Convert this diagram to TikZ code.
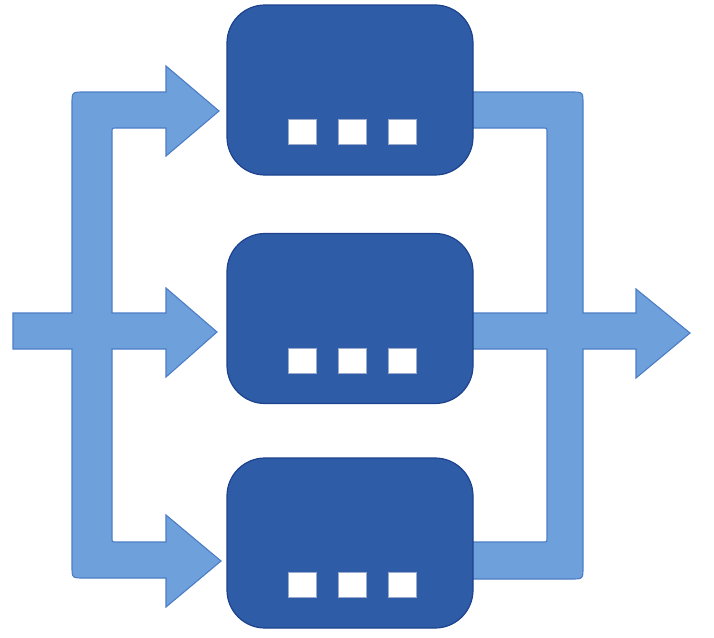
\documentclass[tikz,border=0pt]{standalone}
\definecolor{lightfill}{HTML}{6EA0DC}
\definecolor{lightedge}{HTML}{4C7DC6}
\definecolor{boxfill}{HTML}{2E5CA6}
\definecolor{boxedge}{HTML}{1D428E}
\tikzset{
  flowshape/.style={fill=lightfill, draw=lightedge, line width=1.1pt, line join=miter},
  procbox/.style={rectangle, rounded corners=38pt, fill=boxfill, draw=boxedge, line width=1.2pt,
    minimum width=246pt, minimum height=170pt, inner sep=0pt},
  slot/.style={rectangle, fill=white, draw=boxedge!45, line width=0.5pt,
    minimum width=28pt, minimum height=25pt, inner sep=0pt}
}
\begin{document}
\begin{tikzpicture}[x=1pt,y=-1pt]
\useasboundingbox (0,0) rectangle (714,637);
% left splitting shape
\path[flowshape]
  (72,104) .. controls (72,92) .. (84,92) -- (166,92) -- (166,66) -- (219,111) -- (166,156) -- (166,128)
  -- (115,128) .. controls (112,128) .. (112,131)
  -- (112,313) -- (166,313) -- (166,288) -- (217,332) -- (166,377) -- (166,349) -- (112,349)
  -- (112,539) .. controls (112,542) .. (115,542)
  -- (166,542) -- (166,515) -- (221,561) -- (166,607) -- (166,578)
  -- (84,578) .. controls (72,578) .. (72,566)
  -- (72,349) -- (13,349) -- (13,313) -- (72,313) -- cycle;
% right merging shape
\path[flowshape]
  (460,92) -- (571,92) .. controls (583,92) .. (583,104)
  -- (583,313) -- (636,313) -- (636,289) -- (690,333) -- (636,378) -- (636,349) -- (583,349)
  -- (583,567) .. controls (583,579) .. (571,579)
  -- (460,579) -- (460,542) -- (544,542) .. controls (547,542) .. (547,539)
  -- (547,349) -- (460,349) -- (460,313) -- (547,313)
  -- (547,131) .. controls (547,128) .. (544,128) -- (460,128) -- cycle;
% process boxes
\node[procbox] (b1) at (350,90) {};
\node[procbox] (b2) at (350,318.5) {};
\node[procbox] (b3) at (350,543) {};
% slots
\foreach \b/\y in {1/132, 2/361, 3/585}{
  \node[slot] (s\b a) at (302,\y) {};
  \node[slot] (s\b b) at (352,\y) {};
  \node[slot] (s\b c) at (402,\y) {};
}
\end{tikzpicture}
\end{document}
